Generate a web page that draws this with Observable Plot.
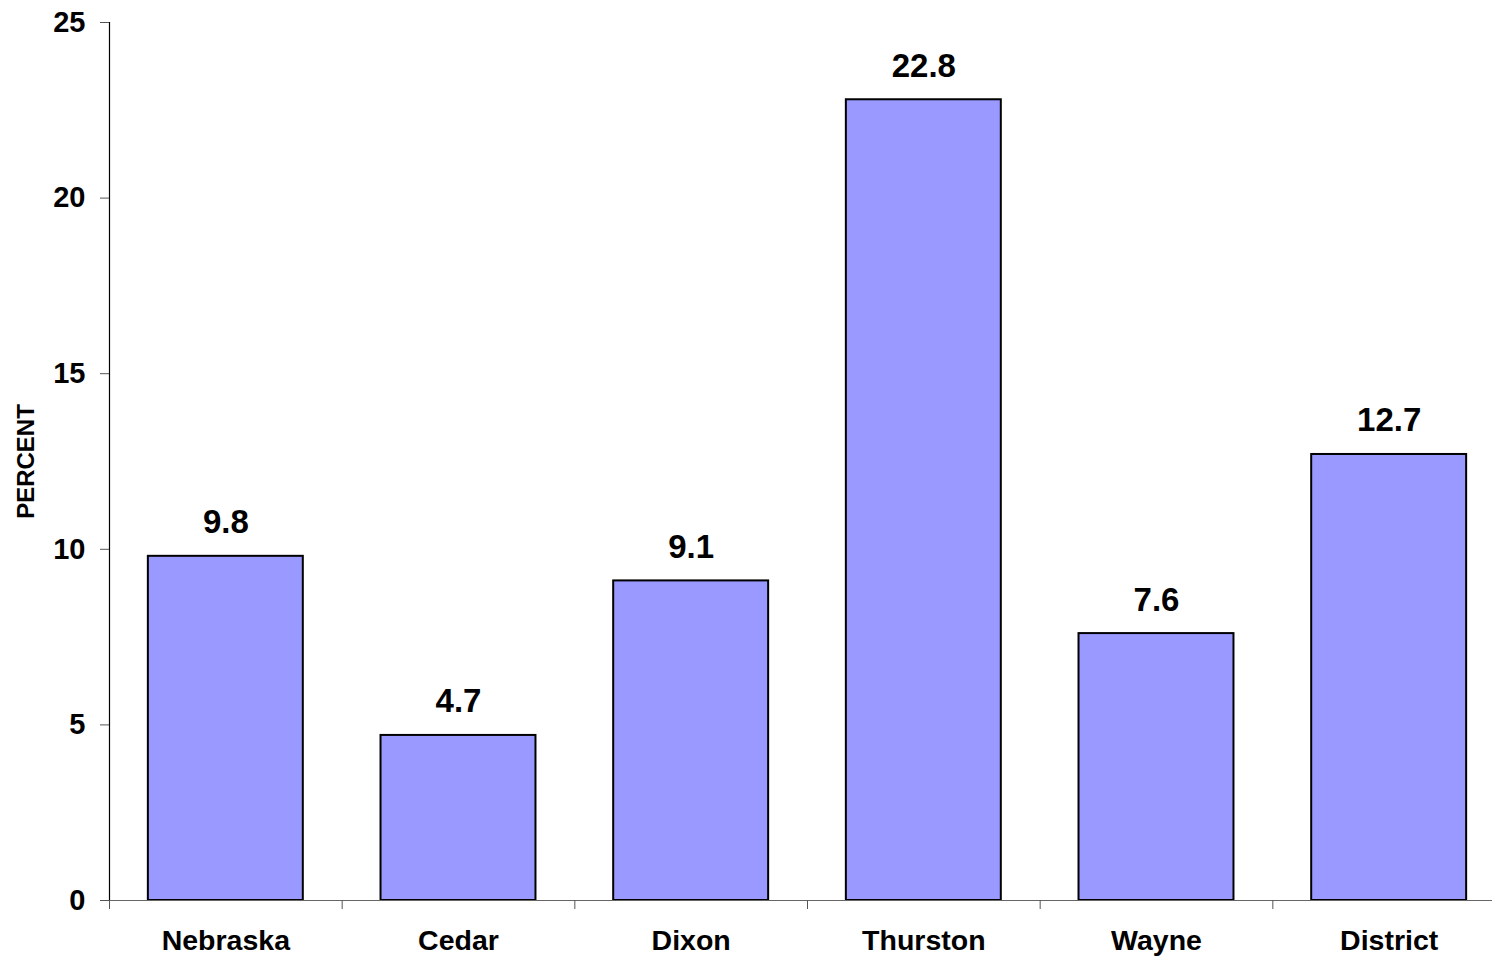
<!DOCTYPE html>
<html>
<head>
<meta charset="utf-8">
<script src="https://cdn.jsdelivr.net/npm/d3@7"></script>
<script src="https://cdn.jsdelivr.net/npm/@observablehq/plot@0.6"></script>
<style>
  html, body { margin: 0; padding: 0; background: #fff; }
  svg { display: block; }
</style>
</head>
<body>
<div id="chart"></div>
<script>
const categories = ["Nebraska", "Cedar", "Dixon", "Thurston", "Wayne", "District"];
const values = [9.8, 4.7, 9.1, 22.8, 7.6, 12.7];
const yTicks = [0, 5, 10, 15, 20, 25];
const yLabel = "PERCENT";

const data = categories.map((c, i) => ({category: c, value: values[i], index: i}));
const gap = 0.167;
const font = "Liberation Sans, Arial, Helvetica, sans-serif";

const chart = Plot.plot({
  width: 1492,
  height: 961,
  marginLeft: 109,
  marginRight: -13,
  marginTop: 22,
  marginBottom: 61,
  style: {fontFamily: font, color: "#000", background: "#fff"},
  x: {type: "linear", domain: [0, categories.length]},
  y: {domain: [0, 25]},
  marks: [
    Plot.rectY(data, {
      x1: d => d.index + gap,
      x2: d => d.index + 1 - gap,
      y1: 0,
      y2: "value",
      fill: "#9999FF",
      stroke: "#000",
      strokeWidth: 2
    }),
    Plot.text(data, {
      x: d => d.index + 0.5,
      y: "value",
      text: d => d.value.toFixed(1),
      lineAnchor: "bottom",
      dy: -23,
      fontSize: 33,
      fontWeight: "bold",
      fill: "#000"
    }),
    Plot.ruleY([0], {x1: 0, x2: categories.length, stroke: "#666", strokeWidth: 1.2}),
    Plot.ruleX([0], {y1: 0, y2: 25, stroke: "#000", strokeWidth: 1.2}),
    Plot.axisX({
      ticks: d3.range(0, categories.length + 1),
      tickFormat: () => "",
      tickSize: 9,
      stroke: "#555",
      label: null
    }),
    Plot.axisX({
      ticks: categories.map((c, i) => i + 0.5),
      tickFormat: v => categories[Math.floor(v)],
      tickSize: 0,
      tickPadding: 29,
      fontSize: 28.5,
      fontWeight: "bold",
      fill: "#000",
      label: null
    }),
    Plot.axisY({
      ticks: yTicks,
      tickSize: 9,
      tickPadding: 15,
      fontSize: 29,
      fontWeight: "bold",
      fill: "#000",
      stroke: "#555",
      label: null
    }),
    Plot.text([yLabel], {
      frameAnchor: "left",
      dx: -83,
      text: d => d,
      rotate: -90,
      textAnchor: "middle",
      fontSize: 24,
      fontWeight: "bold",
      fill: "#000"
    })
  ]
});

document.getElementById("chart").appendChild(chart);
</script>
</body>
</html>
